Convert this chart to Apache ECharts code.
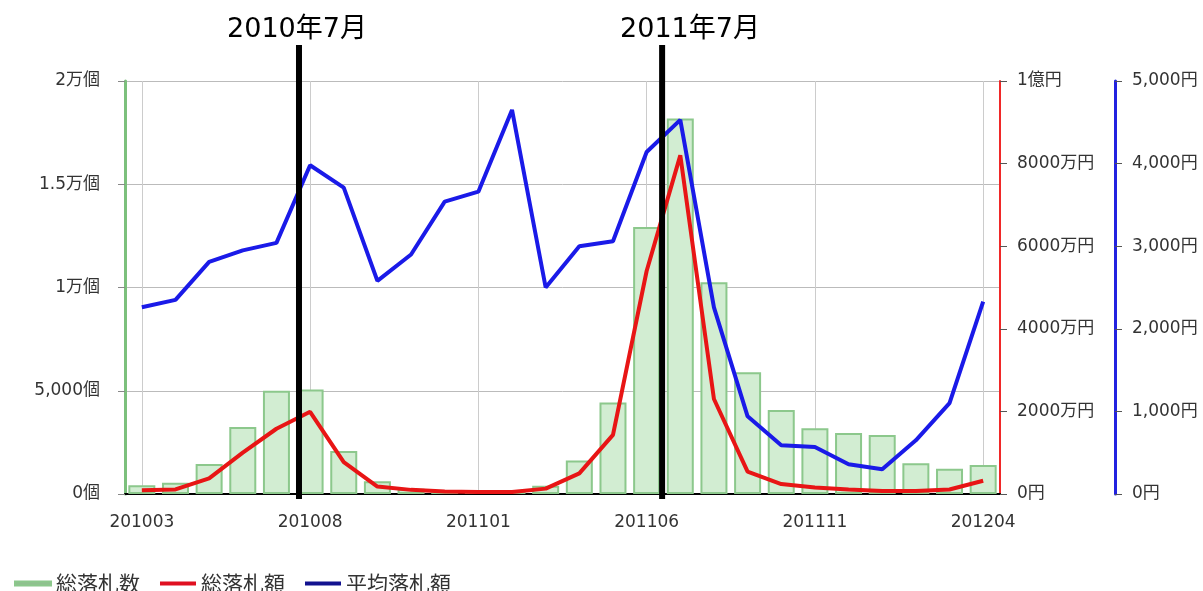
<!DOCTYPE html>
<html><head><meta charset="utf-8">
<script src="https://cdn.jsdelivr.net/npm/echarts@6/dist/echarts.min.js"></script>
<style>html,body{margin:0;padding:0;background:#fff}#c{width:1203px;height:591px}</style>
</head><body><div id="c"></div>
<script>
const categories = ['201003','201004','201005','201006','201007','201008','201009','201010','201011','201012','201101','201102','201103','201104','201105','201106','201107','201108','201109','201110','201111','201112','201201','201202','201203','201204'];
const counts = [420, 550, 1450, 3250, 5000, 5060, 2080, 620, 250, 180, 150, 170, 400, 1620, 4430, 12930, 18180, 10260, 5890, 4070, 3180, 2960, 2860, 1490, 1220, 1400];
const totalAmount = [90, 110, 380, 1000, 1580, 1990, 770, 180, 100, 60, 50, 50, 130, 500, 1430, 5400, 8200, 2300, 540, 240, 160, 110, 70, 70, 110, 320];
const avgAmount = [2260, 2350, 2810, 2950, 3040, 3980, 3710, 2580, 2900, 3540, 3660, 4650, 2500, 3000, 3060, 4140, 4530, 2260, 940, 590, 570, 360, 300, 650, 1100, 2330];
const countTicks = ['0個','5,000個','1万個','1.5万個','2万個'];
const amountTicks = ['0円','2000万円','4000万円','6000万円','8000万円','1億円'];
const avgTicks = ['0円','1,000円','2,000円','3,000円','4,000円','5,000円'];
const seriesNames = ['総落札数','総落札額','平均落札額'];
const markers = [{label:'2010年7月', at:4.67, labelX:297}, {label:'2011年7月', at:15.46, labelX:690}];

const FONT = '"DejaVu Sans", "Noto Sans CJK JP", sans-serif';
const chart = echarts.init(document.getElementById('c'));
const option = {
  animation: false,
  textStyle: {fontFamily: FONT},
  grid: {left: 125, right: 203, top: 81, bottom: 97},
  legend: {
    left: 9, top: 568, itemWidth: 36, itemHeight: 4, itemGap: 20, icon: 'rect',
    textStyle: {fontSize: 21, color: '#333', fontFamily: '"Noto Sans CJK JP", sans-serif'},
    data: [
      {name: seriesNames[0], itemStyle: {color: '#8fc08f'}},
      {name: seriesNames[1], itemStyle: {color: '#e01020'}},
      {name: seriesNames[2], itemStyle: {color: '#12128f'}}
    ]
  },
  xAxis: {
    type: 'category', data: categories, boundaryGap: true,
    axisLine: {lineStyle: {color: '#000', width: 2}},
    axisTick: {alignWithLabel: true, interval: 4, length: 7, lineStyle: {color: '#000'}},
    axisLabel: {interval: 4, fontSize: 17, color: '#333', margin: 20},
    splitLine: {show: true, interval: 4, alignWithLabel: true, lineStyle: {color: '#cccccc'}}
  },
  yAxis: [
    {
      type: 'value', position: 'left', min: 0, max: 20000, interval: 5000,
      axisLine: {show: true, lineStyle: {color: '#7cc07c', width: 3}},
      axisTick: {show: true, length: 7, lineStyle: {color: '#888'}},
      axisLabel: {formatter: v => countTicks[Math.round(v / 5000)], fontSize: 17, color: '#333', margin: 25},
      splitLine: {lineStyle: {color: '#bbbbbb'}}
    },
    {
      type: 'value', position: 'right', min: 0, max: 10000, interval: 2000,
      axisLine: {show: true, lineStyle: {color: '#f02828', width: 2}},
      axisTick: {show: true, length: 7, lineStyle: {color: '#555'}},
      axisLabel: {formatter: v => amountTicks[Math.round(v / 2000)], fontSize: 17, color: '#333', margin: 17},
      splitLine: {show: false}
    },
    {
      type: 'value', position: 'right', offset: 115, min: 0, max: 5000, interval: 1000,
      axisLine: {show: true, lineStyle: {color: '#2222e0', width: 3}},
      axisTick: {show: true, length: 7, lineStyle: {color: '#555'}},
      axisLabel: {formatter: v => avgTicks[Math.round(v / 1000)], fontSize: 17, color: '#333', margin: 17},
      splitLine: {show: false}
    }
  ],
  series: [
    {name: seriesNames[0], type: 'bar', yAxisIndex: 0, data: counts, barWidth: 27,
     itemStyle: {color: '#d2edd2', borderColor: '#8cc88c', borderWidth: 2}},
    {name: seriesNames[1], type: 'line', yAxisIndex: 1, data: totalAmount, showSymbol: false, symbol: 'none',
     lineStyle: {color: '#e81515', width: 4}, itemStyle: {color: '#e81515'}},
    {name: seriesNames[2], type: 'line', yAxisIndex: 2, data: avgAmount, showSymbol: false, symbol: 'none',
     lineStyle: {color: '#1a1ae8', width: 4}, itemStyle: {color: '#1a1ae8'}}
  ]
};
chart.setOption(option);

const gridRect = chart.getModel().getComponent('grid').coordinateSystem.getRect();
const graphics = [];
markers.forEach(m => {
  const i = Math.floor(m.at);
  const a = chart.convertToPixel({xAxisIndex: 0}, categories[i]);
  const b = chart.convertToPixel({xAxisIndex: 0}, categories[i + 1]);
  const x = a + (b - a) * (m.at - i);
  graphics.push({type: 'line', z: 100, shape: {x1: x, y1: 45, x2: x, y2: gridRect.y + gridRect.height + 5},
    style: {stroke: '#000', lineWidth: 6}});
  graphics.push({type: 'text', z: 100, x: m.labelX, y: 30,
    style: {text: m.label, fontSize: 27, fontFamily: FONT, fill: '#000', align: 'center', verticalAlign: 'middle'}});
});
chart.setOption({graphic: graphics});
</script>
</body></html>
